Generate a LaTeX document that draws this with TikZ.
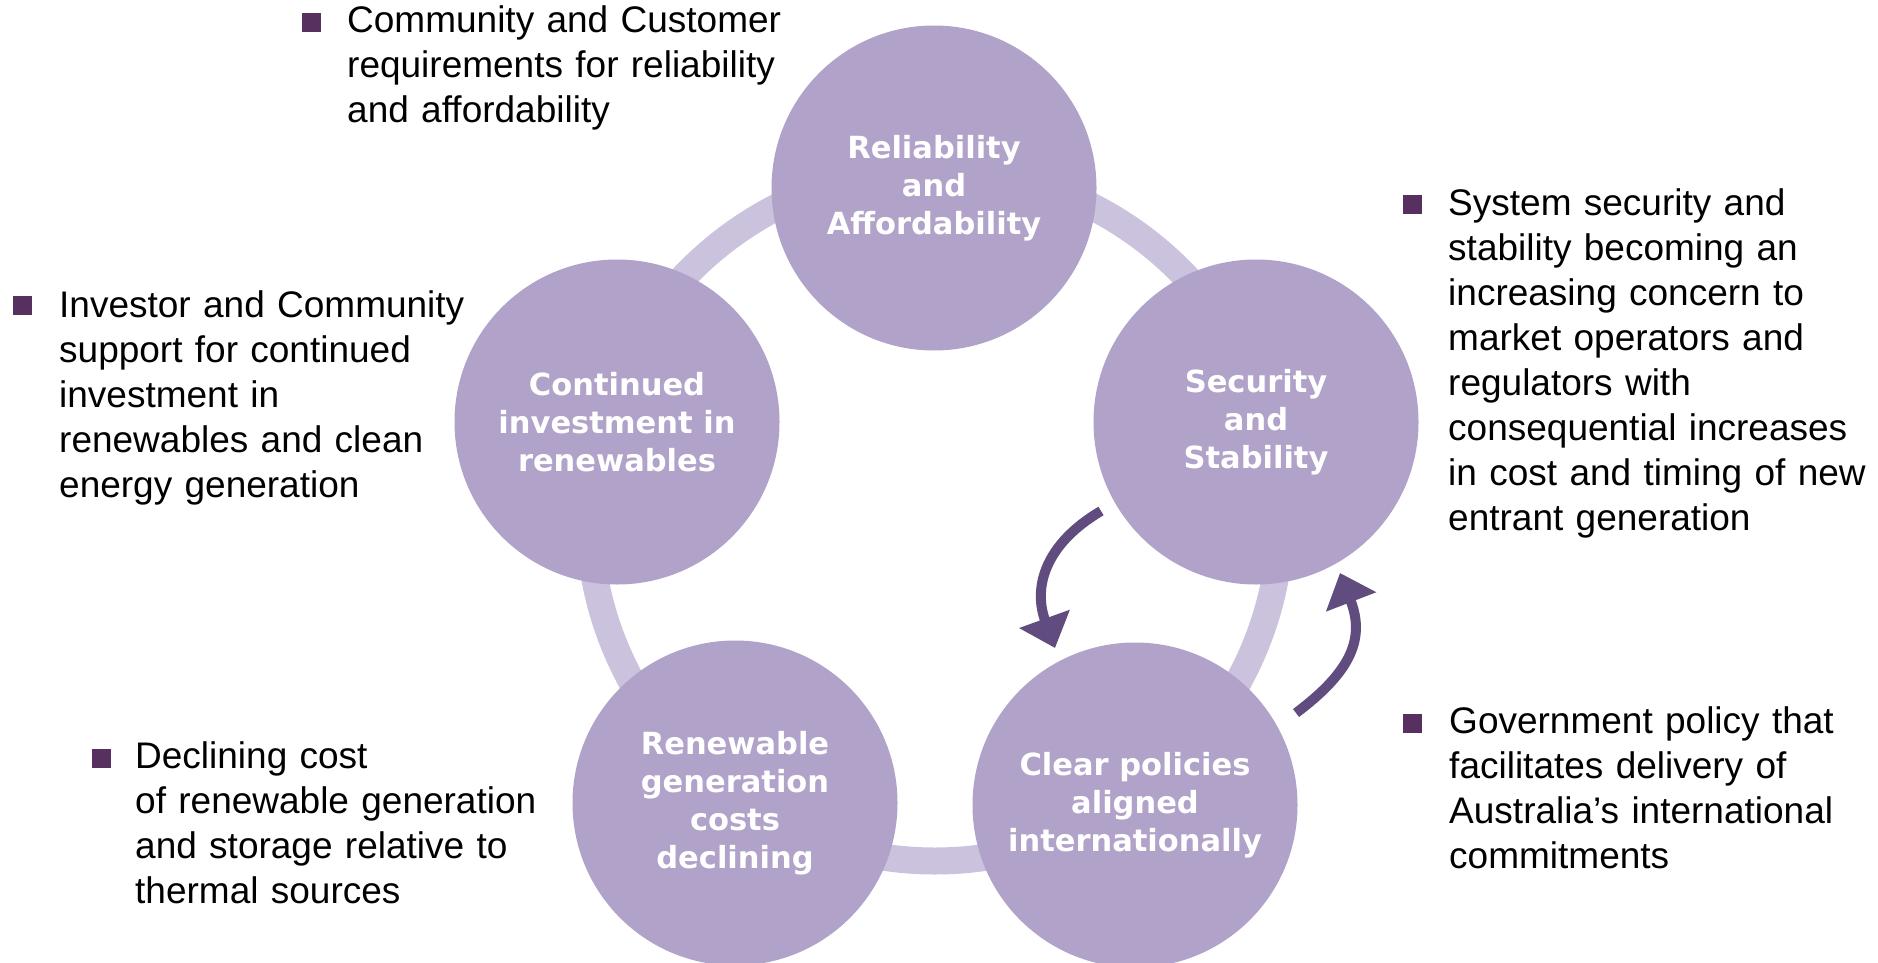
\documentclass[tikz,border=0pt]{standalone}
\usepackage{fontspec}
\setmainfont{Liberation Sans}
\newfontfamily\circfont{DejaVu Sans}
\usetikzlibrary{arrows.meta}
\definecolor{circ}{HTML}{B1A2C9}
\definecolor{ringcol}{HTML}{CBC2DD}
\definecolor{arrowc}{HTML}{604C7E}
\definecolor{bulletc}{HTML}{58305F}
\tikzset{
  bubble/.style={circle, fill=circ, minimum size=325pt, inner sep=0pt, text=white,
    align=center, font=\circfont\bfseries\fontsize{30.5}{38}\selectfont,
    execute at begin node={\rule{0pt}{33pt}}},
  note/.style={anchor=base west, text width=560pt, inner sep=0pt, align=left,
    font=\fontsize{37}{45}\selectfont},
  sq/.style={fill=bulletc, minimum size=19pt, inner sep=0pt},
  cyc/.style={arrowc, line width=10pt, -{Triangle[width=52pt,length=31pt]}},
  ringline/.style={ringcol, line width=27pt}
}
\begin{document}
\begin{tikzpicture}[x=1pt,y=-1pt]
\useasboundingbox[fill=white] (0,0) rectangle (1878,963);
\coordinate (rc) at (935,515);
\draw[ringline] (rc) circle[radius=346pt];

\node[bubble] (rel) at (934,188) {Reliability\\and\\Affordability};
\node[bubble] (sec) at (1256,422) {Security\\and\\Stability};
\node[bubble] (pol) at (1135,805) {Clear policies\\aligned\\internationally};
\node[bubble] (ren) at (735,803) {Renewable\\generation\\costs\\declining};
\node[bubble] (inv) at (617,422) {Continued\\investment in\\renewables};

\coordinate (a1s) at (1101,511);
\coordinate (a1e) at (1055,648);
\coordinate (a2s) at (1296,713);
\coordinate (a2e) at (1340,573);
\draw[cyc] (a1s) .. controls (1045,544) and (1033,587) .. (a1e);
\draw[cyc] (a2s) .. controls (1352,671) and (1365,638) .. (a2e);

\node[sq] (b1) at (311,23) {};
\node[note] (t1) at (347,33) {Community and Customer\\requirements for reliability\\and affordability};
\node[sq] (b2) at (22,305) {};
\node[note] (t2) at (59,317) {Investor and Community\\support for continued\\investment in\\renewables and clean\\energy generation};
\node[sq] (b3) at (101,758) {};
\node[note] (t3) at (135,768) {Declining cost\\of renewable generation\\and storage relative to\\thermal sources};
\node[sq] (b4) at (1412,204) {};
\node[note] (t4) at (1448,215) {System security and\\stability becoming an\\increasing concern to\\market operators and\\regulators with\\consequential increases\\in cost and timing of new\\entrant generation};
\node[sq] (b5) at (1412,723) {};
\node[note] (t5) at (1449,733) {Government policy that\\facilitates delivery of\\Australia’s international\\commitments};
\end{tikzpicture}
\end{document}
